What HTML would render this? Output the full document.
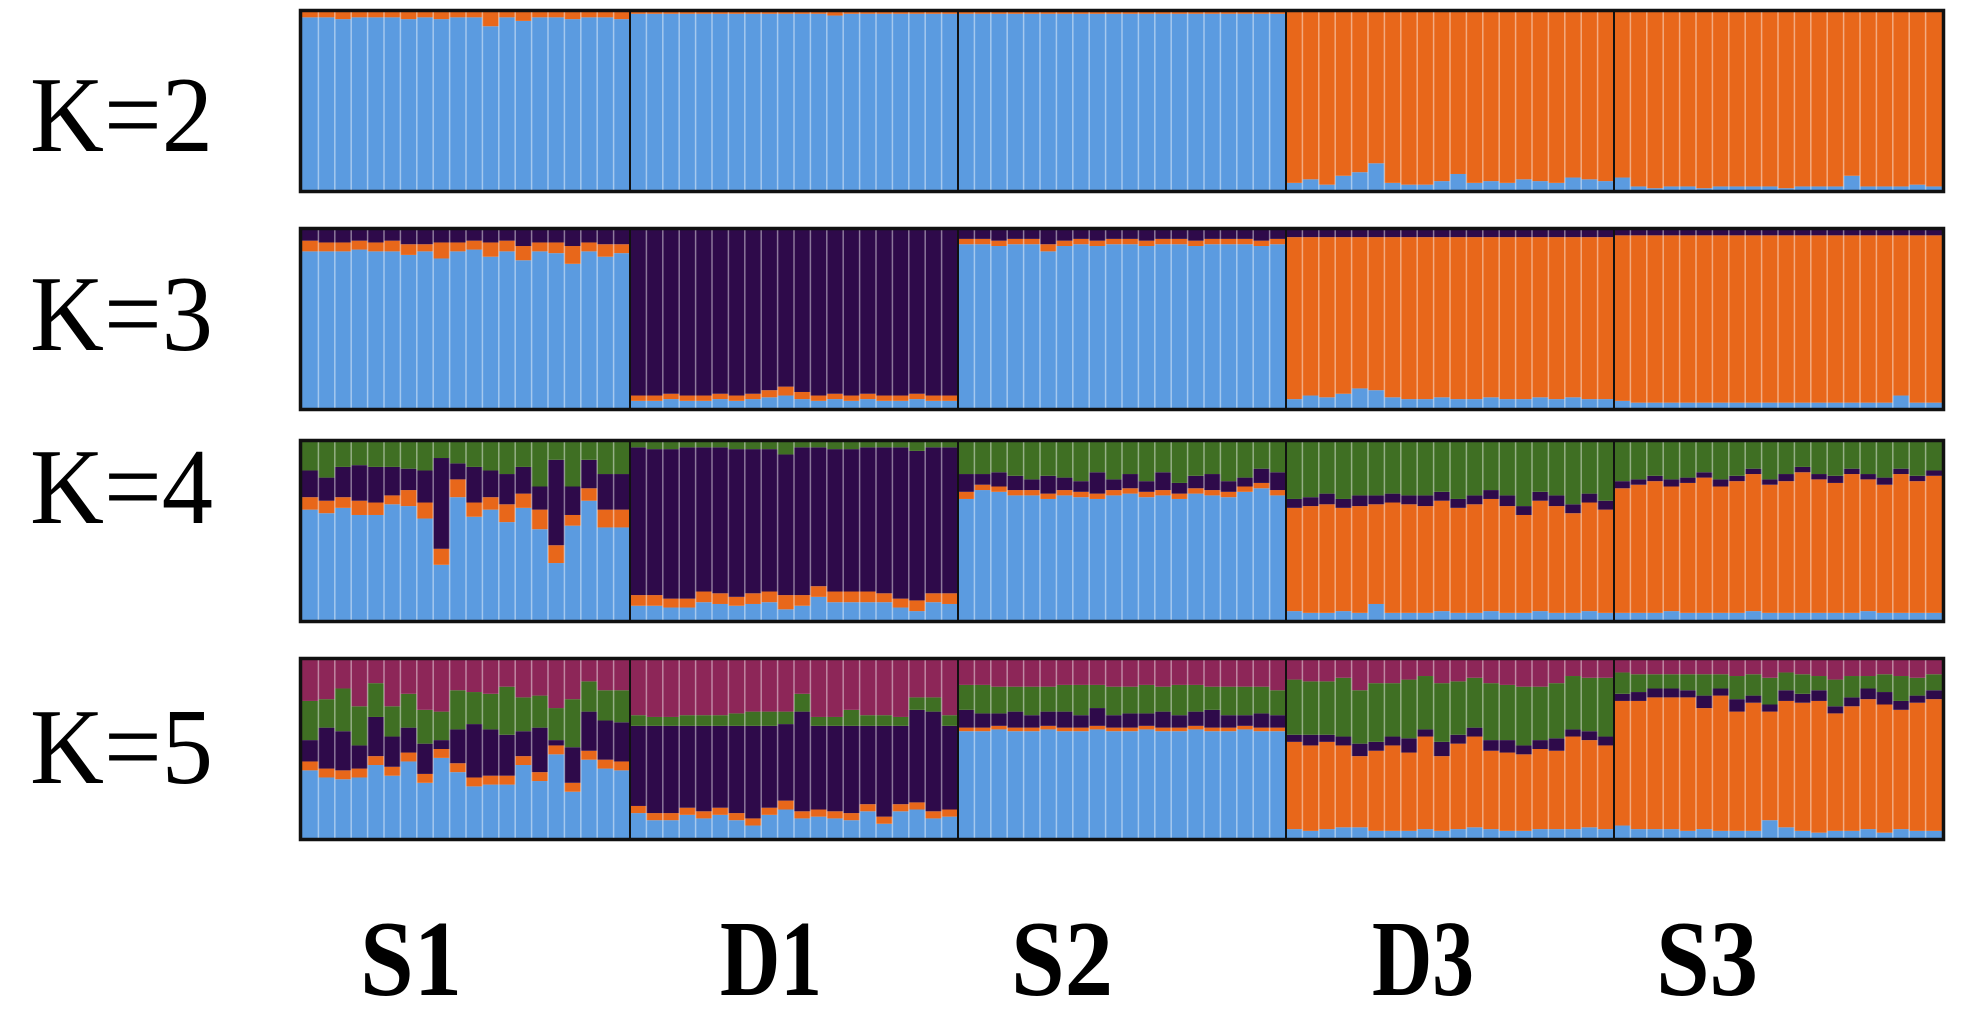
<!DOCTYPE html>
<html><head><meta charset="utf-8"><style>
html,body{margin:0;padding:0;background:#fff;}
svg{display:block;}
#labels text{font-family:"Liberation Serif","Times New Roman",serif;}
</style></head><body>
<svg id="chart" width="1983" height="1013" viewBox="0 0 1983 1013" xmlns="http://www.w3.org/2000/svg">
<g id="panels"></g>
<g id="labels" fill="#000"></g>
</svg>
<script>
const populations = ["S1","D1","S2","D3","S3"];
const kLabels = ["K=2","K=3","K=4","K=5"];
const clusterColors = ["#5b9be0","#e8671a","#2e0a4a","#3f6f23","#8d2658"];
// Each K: component arrays bottom-up (blue, orange, purple, green); the top cluster is the remainder.
const k2_blue = [
0.97,0.97,0.96,0.97,0.97,0.97,0.96,0.97,0.96,0.97,0.97,0.92,0.97,0.95,0.97,0.97,0.96,0.97,0.97,0.96,
0.99,0.99,0.99,0.99,0.99,0.99,0.99,0.99,0.99,0.99,0.99,0.99,0.98,0.99,0.99,0.99,0.99,0.99,0.99,0.99,
0.99,0.99,0.99,0.99,0.99,0.99,0.99,0.99,0.99,0.99,0.99,0.99,0.99,0.99,0.99,0.99,0.99,0.99,0.99,0.99,
0.04,0.06,0.03,0.08,0.10,0.15,0.04,0.03,0.03,0.05,0.09,0.04,0.05,0.04,0.06,0.05,0.04,0.07,0.06,0.05,
0.07,0.02,0.01,0.02,0.02,0.01,0.02,0.02,0.02,0.02,0.01,0.02,0.02,0.02,0.08,0.02,0.02,0.02,0.03,0.02];
const k3_blue = [
0.88,0.88,0.88,0.89,0.88,0.88,0.86,0.88,0.84,0.88,0.89,0.85,0.88,0.83,0.88,0.87,0.81,0.88,0.85,0.87,
0.04,0.04,0.05,0.04,0.04,0.05,0.04,0.05,0.06,0.07,0.05,0.04,0.05,0.04,0.05,0.04,0.04,0.05,0.04,0.04,
0.92,0.92,0.91,0.92,0.92,0.88,0.91,0.92,0.91,0.92,0.92,0.91,0.92,0.92,0.91,0.92,0.92,0.92,0.91,0.92,
0.05,0.07,0.06,0.08,0.11,0.10,0.06,0.05,0.05,0.06,0.05,0.05,0.06,0.05,0.05,0.06,0.05,0.06,0.05,0.05,
0.04,0.03,0.03,0.03,0.03,0.03,0.03,0.03,0.03,0.03,0.03,0.03,0.03,0.03,0.03,0.03,0.03,0.07,0.03,0.03];
const k3_orange = [
0.06,0.05,0.05,0.05,0.05,0.06,0.06,0.04,0.09,0.05,0.05,0.08,0.06,0.08,0.05,0.06,0.10,0.05,0.07,0.05,
0.03,0.03,0.03,0.03,0.03,0.03,0.03,0.03,0.04,0.05,0.04,0.03,0.03,0.03,0.03,0.03,0.03,0.03,0.03,0.03,
0.03,0.03,0.03,0.03,0.03,0.04,0.03,0.03,0.03,0.03,0.03,0.03,0.03,0.03,0.03,0.03,0.03,0.03,0.03,0.03,
0.91,0.89,0.90,0.88,0.85,0.86,0.90,0.91,0.91,0.90,0.91,0.91,0.90,0.91,0.91,0.90,0.91,0.90,0.91,0.91,
0.93,0.94,0.94,0.94,0.94,0.94,0.94,0.94,0.94,0.94,0.94,0.94,0.94,0.94,0.94,0.94,0.94,0.90,0.94,0.94];
const k4_blue = [
0.62,0.60,0.63,0.59,0.59,0.65,0.64,0.57,0.31,0.69,0.58,0.62,0.55,0.63,0.51,0.32,0.53,0.67,0.52,0.52,
0.08,0.08,0.07,0.07,0.10,0.09,0.08,0.09,0.10,0.06,0.08,0.13,0.10,0.10,0.10,0.10,0.07,0.05,0.10,0.09,
0.68,0.73,0.72,0.70,0.70,0.68,0.70,0.69,0.68,0.70,0.71,0.69,0.70,0.68,0.71,0.70,0.69,0.72,0.74,0.70,
0.05,0.04,0.04,0.05,0.04,0.09,0.04,0.04,0.04,0.05,0.04,0.04,0.05,0.04,0.04,0.05,0.04,0.04,0.05,0.04,
0.04,0.04,0.04,0.05,0.04,0.04,0.04,0.04,0.05,0.04,0.04,0.04,0.04,0.04,0.04,0.05,0.04,0.04,0.04,0.04];
const k4_orange = [
0.07,0.07,0.06,0.08,0.07,0.05,0.09,0.09,0.09,0.10,0.08,0.07,0.10,0.08,0.11,0.10,0.06,0.07,0.10,0.10,
0.06,0.06,0.05,0.05,0.06,0.06,0.05,0.06,0.06,0.08,0.06,0.06,0.06,0.06,0.06,0.05,0.05,0.06,0.05,0.06,
0.04,0.03,0.03,0.03,0.03,0.03,0.03,0.03,0.03,0.03,0.03,0.03,0.03,0.03,0.03,0.03,0.03,0.03,0.03,0.03,
0.58,0.60,0.61,0.58,0.60,0.56,0.62,0.61,0.60,0.62,0.59,0.61,0.63,0.60,0.55,0.62,0.60,0.56,0.61,0.58,
0.70,0.72,0.74,0.70,0.73,0.76,0.71,0.74,0.77,0.72,0.74,0.79,0.75,0.73,0.78,0.74,0.72,0.78,0.74,0.77];
const k4_purple = [
0.15,0.13,0.17,0.20,0.20,0.16,0.12,0.18,0.51,0.09,0.20,0.15,0.17,0.15,0.13,0.48,0.16,0.16,0.20,0.20,
0.83,0.82,0.84,0.85,0.81,0.82,0.83,0.81,0.80,0.79,0.83,0.78,0.80,0.80,0.81,0.82,0.85,0.84,0.82,0.82,
0.10,0.06,0.08,0.08,0.06,0.10,0.07,0.06,0.12,0.06,0.08,0.06,0.10,0.06,0.07,0.09,0.06,0.05,0.08,0.10,
0.05,0.05,0.06,0.05,0.06,0.05,0.05,0.05,0.06,0.05,0.05,0.05,0.05,0.06,0.05,0.05,0.06,0.05,0.05,0.05,
0.04,0.03,0.03,0.04,0.03,0.03,0.04,0.03,0.03,0.03,0.04,0.03,0.03,0.04,0.03,0.03,0.04,0.03,0.03,0.03];
const k5_blue = [
0.38,0.34,0.33,0.34,0.41,0.35,0.43,0.31,0.45,0.37,0.29,0.30,0.30,0.41,0.32,0.47,0.26,0.44,0.39,0.38,
0.14,0.10,0.10,0.13,0.11,0.13,0.10,0.07,0.13,0.16,0.11,0.12,0.11,0.10,0.15,0.08,0.15,0.16,0.11,0.12,
0.60,0.60,0.61,0.60,0.60,0.61,0.60,0.60,0.61,0.60,0.60,0.61,0.60,0.60,0.61,0.60,0.60,0.61,0.60,0.60,
0.05,0.04,0.05,0.06,0.06,0.04,0.04,0.04,0.05,0.04,0.05,0.06,0.05,0.04,0.04,0.05,0.05,0.05,0.06,0.05,
0.07,0.05,0.05,0.05,0.04,0.05,0.04,0.04,0.04,0.10,0.06,0.04,0.03,0.04,0.04,0.05,0.03,0.05,0.04,0.04];
const k5_orange = [
0.05,0.05,0.05,0.05,0.05,0.05,0.05,0.05,0.05,0.05,0.05,0.05,0.05,0.05,0.05,0.05,0.05,0.05,0.05,0.05,
0.04,0.04,0.04,0.04,0.04,0.04,0.04,0.04,0.04,0.05,0.04,0.04,0.04,0.04,0.04,0.04,0.04,0.04,0.04,0.04,
0.02,0.02,0.02,0.02,0.02,0.02,0.02,0.02,0.02,0.02,0.02,0.02,0.02,0.02,0.02,0.02,0.02,0.02,0.02,0.02,
0.49,0.48,0.49,0.46,0.40,0.45,0.48,0.44,0.52,0.42,0.48,0.51,0.44,0.44,0.43,0.45,0.44,0.52,0.49,0.47,
0.70,0.72,0.74,0.74,0.75,0.68,0.76,0.67,0.72,0.61,0.71,0.72,0.74,0.66,0.70,0.73,0.72,0.67,0.72,0.74];
const k5_purple = [
0.12,0.23,0.22,0.13,0.22,0.17,0.14,0.17,0.05,0.19,0.30,0.26,0.23,0.14,0.25,0.03,0.20,0.22,0.22,0.22,
0.45,0.49,0.49,0.46,0.48,0.46,0.49,0.52,0.46,0.43,0.56,0.47,0.48,0.49,0.44,0.51,0.44,0.52,0.56,0.47,
0.10,0.08,0.07,0.09,0.07,0.08,0.09,0.07,0.10,0.07,0.08,0.07,0.09,0.07,0.08,0.10,0.07,0.06,0.08,0.07,
0.04,0.06,0.04,0.05,0.07,0.05,0.05,0.08,0.04,0.08,0.05,0.05,0.06,0.07,0.05,0.05,0.07,0.04,0.05,0.05,
0.04,0.05,0.05,0.05,0.04,0.07,0.04,0.07,0.04,0.04,0.06,0.05,0.06,0.04,0.05,0.06,0.07,0.05,0.04,0.05];
const k5_green = [
0.22,0.16,0.24,0.22,0.19,0.17,0.19,0.19,0.16,0.22,0.18,0.20,0.27,0.19,0.18,0.18,0.27,0.17,0.17,0.18,
0.06,0.05,0.05,0.06,0.06,0.06,0.07,0.08,0.08,0.07,0.10,0.05,0.05,0.09,0.06,0.06,0.05,0.07,0.08,0.06,
0.14,0.16,0.15,0.14,0.16,0.14,0.15,0.17,0.13,0.16,0.15,0.16,0.14,0.17,0.15,0.13,0.16,0.16,0.15,0.14,
0.31,0.30,0.30,0.33,0.30,0.33,0.30,0.33,0.30,0.33,0.30,0.28,0.32,0.31,0.33,0.30,0.31,0.30,0.30,0.33,
0.12,0.10,0.08,0.08,0.09,0.12,0.08,0.13,0.12,0.15,0.10,0.11,0.08,0.15,0.12,0.07,0.10,0.14,0.10,0.09];
const kSeries = [
  [k2_blue],
  [k3_blue, k3_orange],
  [k4_blue, k4_orange, k4_purple],
  [k5_blue, k5_orange, k5_purple, k5_green]
];
const NS = "http://www.w3.org/2000/svg";
const panelX0 = 302, panelX1 = 1942;
const panelTop = [12, 230, 442, 660];
const panelH = 178;
const nBars = k2_blue.length;
const perPop = nBars / populations.length;
const bw = (panelX1 - panelX0) / nBars;
function xScale(i){ return panelX0 + i * bw; }
function yScale(p, v){ return panelTop[p] + (1 - v) * panelH; }
const gP = document.getElementById('panels');
kSeries.forEach((comps, p) => {
  const g = document.createElementNS(NS, 'g');
  
  
  gP.appendChild(g);
  for (let i = 0; i < nBars; i++) {
    let cum = 0;
    const vals = comps.map(a => a[i]);
    let rest = 1 - vals.reduce((s, v) => s + v, 0);
    vals.push(Math.max(0, rest));
    vals.forEach((v, c) => {
      const r = document.createElementNS(NS, 'rect');
      
      
      r.setAttribute('x', xScale(i));
      r.setAttribute('width', bw + 0.3);
      r.setAttribute('y', yScale(p, cum + v));
      r.setAttribute('height', v * panelH);
      r.setAttribute('fill', clusterColors[c]);
      g.appendChild(r);
      cum += v;
    });
    if (i > 0) {
      const l = document.createElementNS(NS, 'line');
      
      
      l.setAttribute('x1', xScale(i)); l.setAttribute('x2', xScale(i));
      l.setAttribute('y1', panelTop[p]); l.setAttribute('y2', panelTop[p] + panelH);
      l.setAttribute('stroke', i % perPop === 0 ? '#111' : 'rgba(255,255,255,0.45)');
      l.setAttribute('stroke-width', i % perPop === 0 ? 2 : 1.5);
      g.appendChild(l);
    }
  }
  const b = document.createElementNS(NS, 'rect');
  
  
  b.setAttribute('x', panelX0 - 1.5); b.setAttribute('y', panelTop[p] - 1.5);
  b.setAttribute('width', panelX1 - panelX0 + 3); b.setAttribute('height', panelH + 3);
  b.setAttribute('fill', 'none'); b.setAttribute('stroke', '#111'); b.setAttribute('stroke-width', 3.5);
  g.appendChild(b);
});
const gL = document.getElementById('labels');
const kBase = [151, 350, 523, 783];
kLabels.forEach((t, p) => {
  const tx = document.createElementNS(NS, 'text');
  
  
  tx.setAttribute('x', 30); tx.setAttribute('y', kBase[p]);
  tx.setAttribute('font-size', 108);
  tx.setAttribute('textLength', 183);
  tx.setAttribute('lengthAdjust', 'spacingAndGlyphs');
  tx.textContent = t;
  gL.appendChild(tx);
});
const popCenters = [411, 771, 1062, 1423, 1707];
populations.forEach((t, i) => {
  const tx = document.createElementNS(NS, 'text');
  
  
  tx.setAttribute('x', popCenters[i]); tx.setAttribute('y', 995);
  tx.setAttribute('text-anchor', 'middle');
  tx.setAttribute('font-size', 108);
  tx.setAttribute('font-weight', 'bold');
  tx.setAttribute('textLength', 102);
  tx.setAttribute('lengthAdjust', 'spacingAndGlyphs');
  tx.textContent = t;
  gL.appendChild(tx);
});
</script>
</body></html>
